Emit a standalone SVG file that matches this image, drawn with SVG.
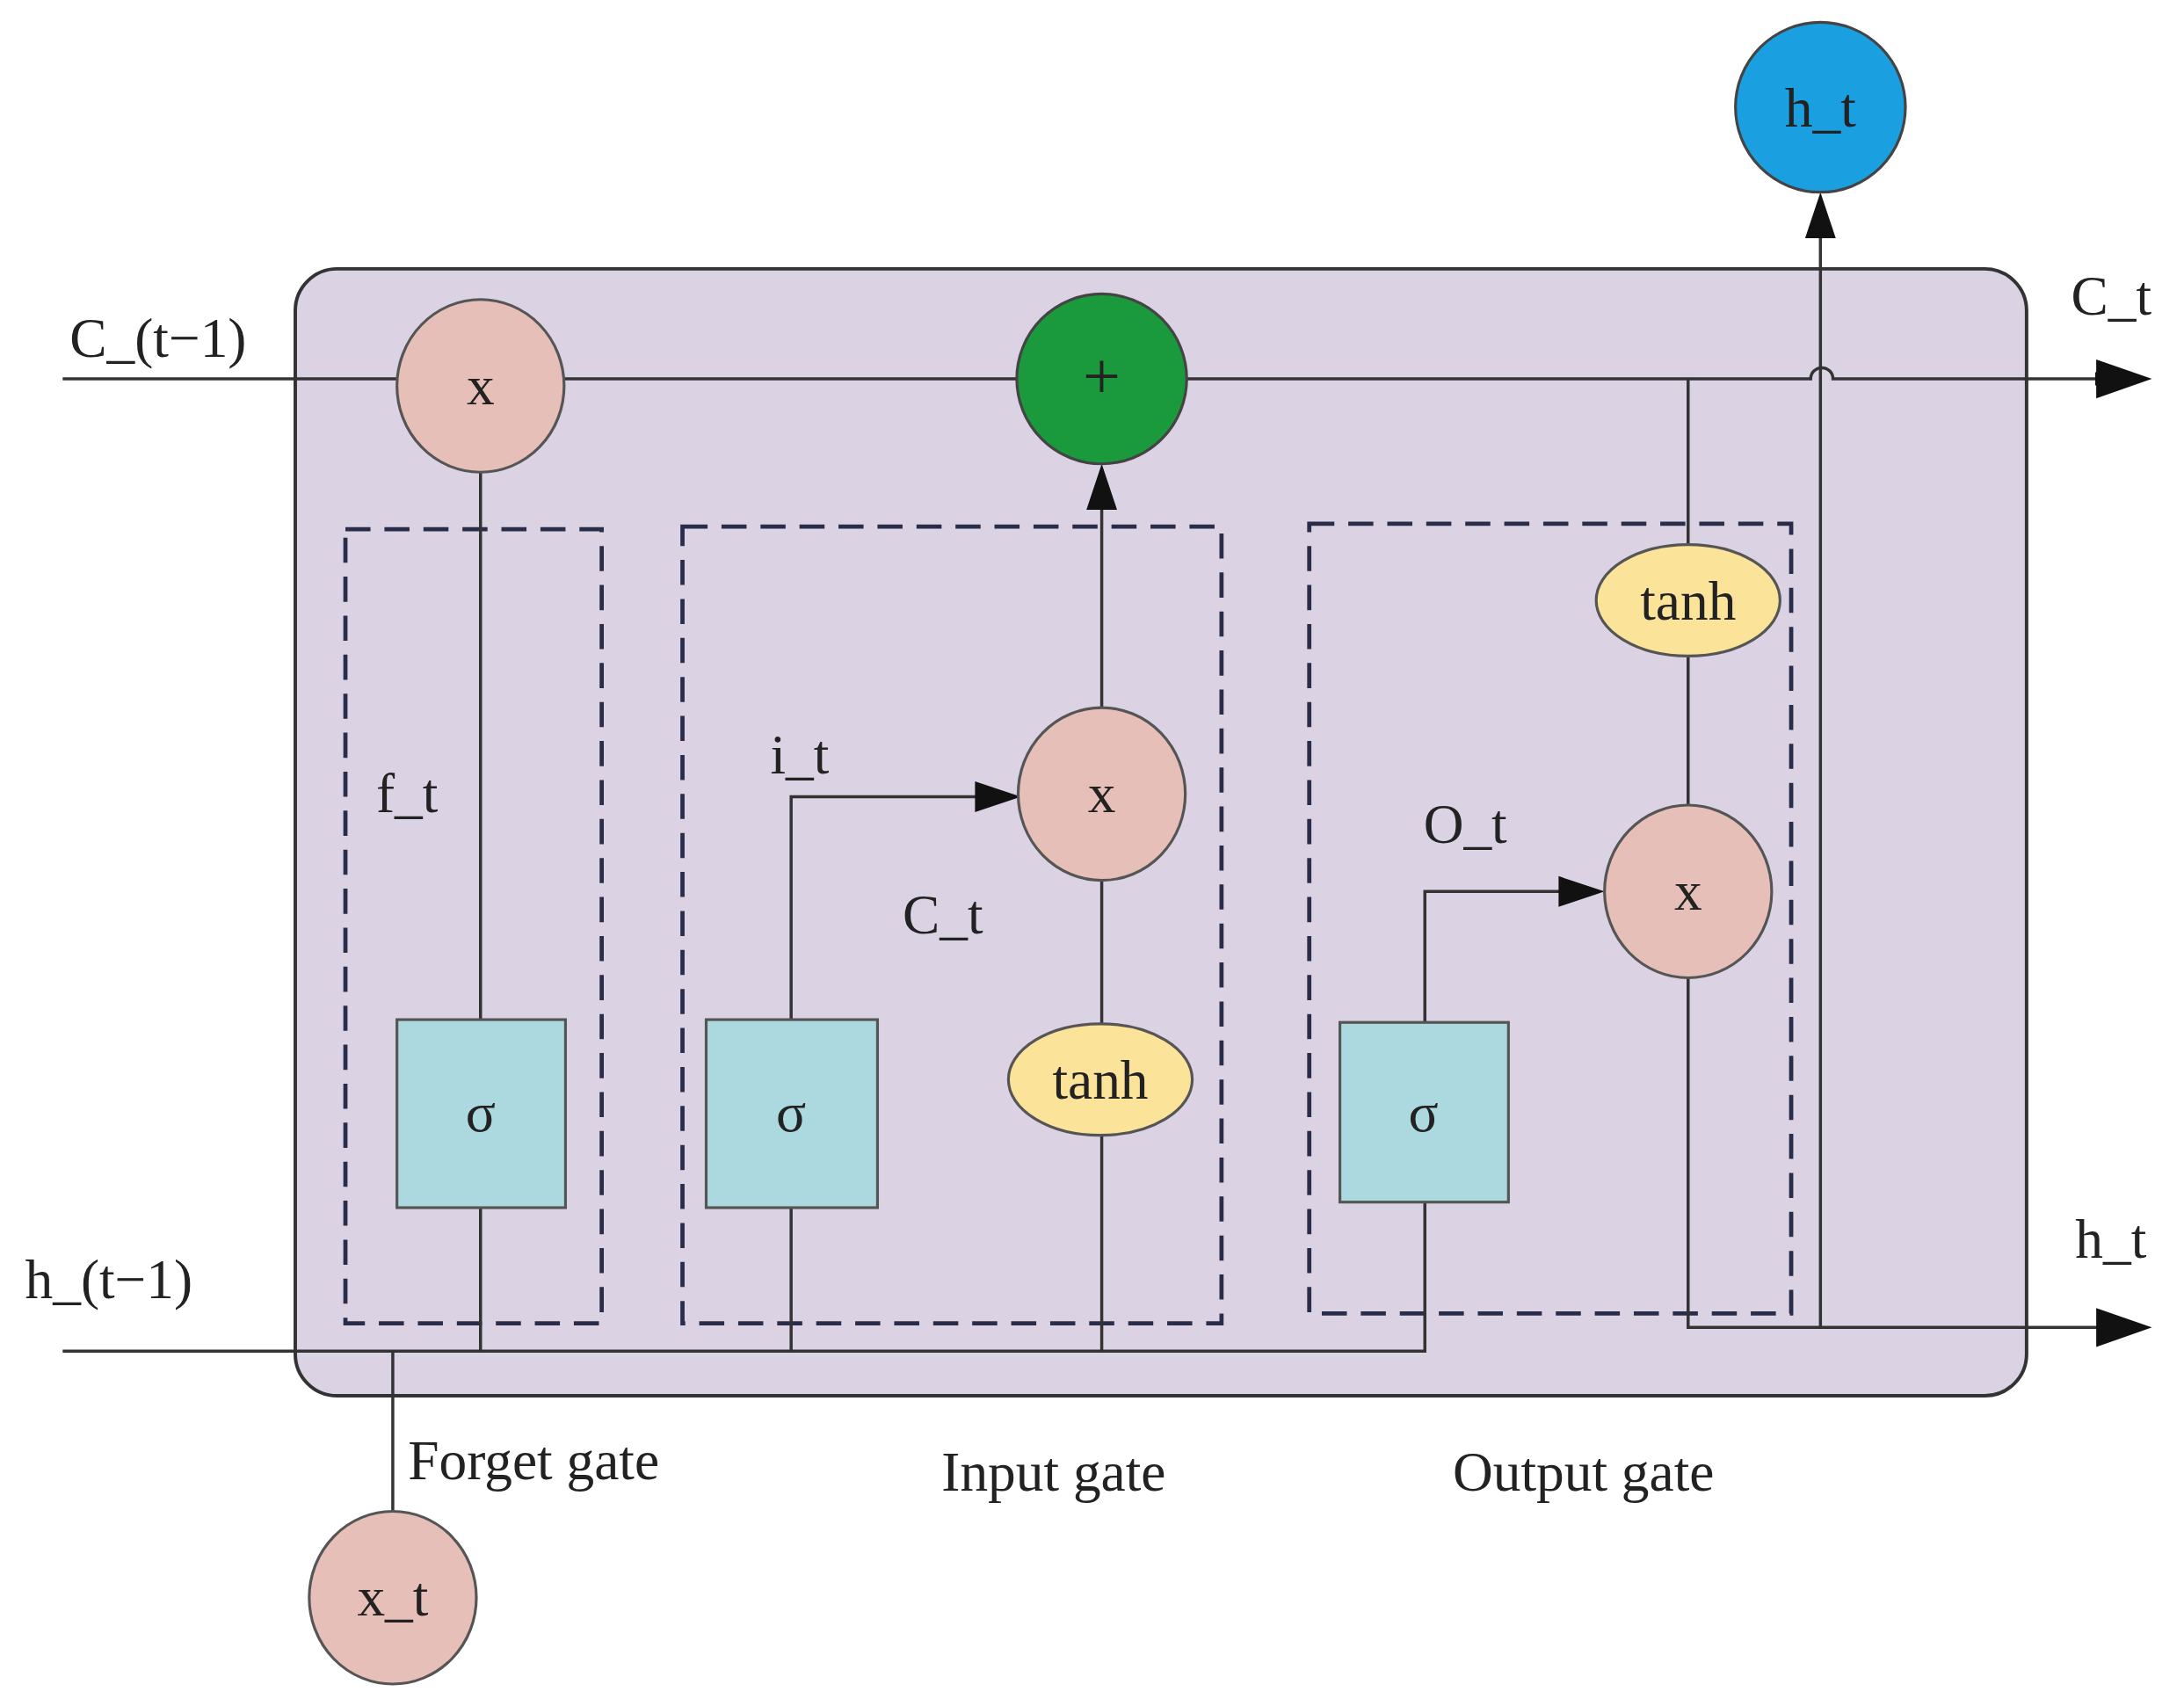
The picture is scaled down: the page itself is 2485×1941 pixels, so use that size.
<svg xmlns="http://www.w3.org/2000/svg" width="2485" height="1941" viewBox="0 0 2485 1941">
<style>
text{font-family:"Liberation Serif","DejaVu Serif",serif;font-size:40px;fill:#222}
.c text{text-anchor:middle}
.ln{stroke:#333;stroke-width:2.2;fill:none}
.dash{fill:none;stroke:#2a2d4a;stroke-width:3;stroke-dasharray:18 10}
.mul{fill:#e6c0b8;stroke:#555;stroke-width:2}
.sig{fill:#acd8e0;stroke:#555;stroke-width:2}
.th{fill:#fbe49a;stroke:#555;stroke-width:2}
</style>
<defs><marker id="a" markerWidth="12" markerHeight="10" refX="11" refY="5" orient="auto" markerUnits="userSpaceOnUse"><path d="M0,0L12,5L0,10z" fill="#111"/></marker>
<marker id="b" markerWidth="34" markerHeight="30" refX="32" refY="15" orient="auto" markerUnits="userSpaceOnUse"><path d="M0,0L34,15L0,30z" fill="#111"/></marker></defs>
<rect width="2485" height="1941" fill="#fff"/>
<g transform="scale(1.5848)">
<rect x="212" y="193" width="1243" height="809" rx="30" fill="#dbd3e4" stroke="#333" stroke-width="2.5"/>
<rect class="dash" x="248" y="380" width="184" height="570"/>
<rect class="dash" x="490" y="378" width="387" height="572"/>
<rect class="dash" x="940" y="376" width="346" height="567"/>
<g id="connectors">
<path class="ln" d="M45,272H1300a8,8 0 0 1 16,0H1515" marker-end="url(#a)"/>
<path class="ln" d="M1515,272h1" stroke-width="0" marker-end="url(#a)"/>
<path class="ln" d="M45,970H1023V863"/>
<path class="ln" d="M345,970V867M345,732V339"/>
<path class="ln" d="M568,970V867"/>
<path class="ln" d="M568,732V572H712"/>
<path d="M700,561L733,572L700,583z" fill="#111"/>
<path class="ln" d="M791,970V815M791,735V632M791,508V345"/>
<path d="M780,366L791,333L802,366z" fill="#111"/>
<path class="ln" d="M1023,734V640H1130"/>
<path d="M1119,629L1152,640L1119,651z" fill="#111"/>
<path class="ln" d="M1212,578V471M1212,391V272"/>
<path class="ln" d="M1212,702V953H1515"/>
<path d="M1505,939L1545,953L1505,967z" fill="#111"/>
<path d="M1505,258L1545,272L1505,286z" fill="#111"/>
<path class="ln" d="M1307,953V160"/>
<path d="M1296,171L1307,138L1318,171z" fill="#111"/>
<path class="ln" d="M282,970V1087"/>
</g>
<g id="mulf" class="c"><ellipse class="mul" cx="345" cy="277" rx="60" ry="62"/><text x="345" y="290">x</text></g>
<g id="plus" class="c"><circle cx="791" cy="272" r="61" fill="#1a9a3c" stroke="#444" stroke-width="2"/><text x="791" y="286" style="font-size:48px">+</text></g>
<g id="hout" class="c"><ellipse cx="1307" cy="77" rx="61" ry="61" fill="#1aa0e0" stroke="#444" stroke-width="2"/><text x="1307" y="91">h_t</text></g>
<g id="sigf" class="c"><rect class="sig" x="285" y="732" width="121" height="135"/><text x="345" y="812">σ</text></g>
<g id="sigi" class="c"><rect class="sig" x="507" y="732" width="123" height="135"/><text x="568" y="812">σ</text></g>
<g id="sigo" class="c"><rect class="sig" x="962" y="734" width="121" height="129"/><text x="1022" y="812">σ</text></g>
<g id="tanhi" class="c"><ellipse class="th" cx="790" cy="775" rx="66" ry="40"/><text x="790" y="789">tanh</text></g>
<g id="tanho" class="c"><ellipse class="th" cx="1212" cy="431" rx="66" ry="40"/><text x="1212" y="445">tanh</text></g>
<g id="muli" class="c"><ellipse class="mul" cx="791" cy="570" rx="60" ry="62"/><text x="791" y="583">x</text></g>
<g id="mulo" class="c"><ellipse class="mul" cx="1212" cy="640" rx="60" ry="62"/><text x="1212" y="653">x</text></g>
<g id="xt" class="c"><ellipse class="mul" cx="282" cy="1147" rx="60" ry="62"/><text x="282" y="1160">x_t</text></g>
<text x="50" y="256">C_(t−1)</text>
<text x="18" y="932">h_(t−1)</text>
<text x="1487" y="226">C_t</text>
<text x="1490" y="903">h_t</text>
<text x="270" y="583">f_t</text>
<text x="553" y="555">i_t</text>
<text x="648" y="670">C_t</text>
<text x="1022" y="605">O_t</text>
<text x="293" y="1062">Forget gate</text>
<text x="676" y="1070">Input gate</text>
<text x="1043" y="1070">Output gate</text>
</g>
</svg>
